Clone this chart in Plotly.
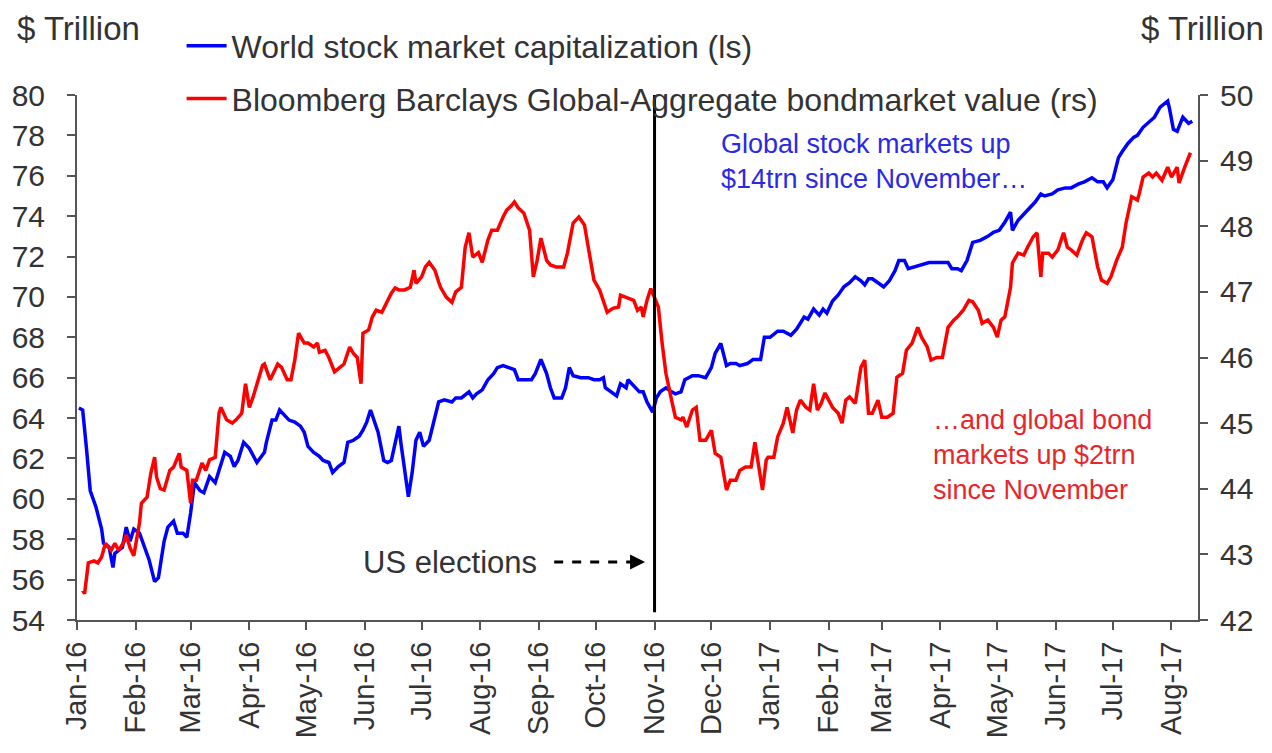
import plotly.graph_objects as go

# ---------------- data ----------------
stock_dates = [
    "2016-01-02","2016-01-04","2016-01-06","2016-01-08","2016-01-11","2016-01-14","2016-01-15","2016-01-18",
    "2016-01-20","2016-01-21","2016-01-25","2016-01-27","2016-01-29","2016-01-31","2016-02-03","2016-02-05",
    "2016-02-08","2016-02-11","2016-02-13","2016-02-16","2016-02-18","2016-02-21","2016-02-23","2016-02-26",
    "2016-02-28","2016-03-01","2016-03-03","2016-03-06","2016-03-08","2016-03-11","2016-03-14","2016-03-16",
    "2016-03-19","2016-03-22","2016-03-24","2016-03-26","2016-03-29","2016-04-01","2016-04-05","2016-04-09",
    "2016-04-10","2016-04-13","2016-04-15","2016-04-17","2016-04-20","2016-04-22","2016-04-25","2016-04-28",
    "2016-04-30","2016-05-02","2016-05-05","2016-05-08","2016-05-10","2016-05-13","2016-05-15","2016-05-18",
    "2016-05-21","2016-05-23","2016-05-26","2016-05-29","2016-05-31","2016-06-02","2016-06-04","2016-06-06",
    "2016-06-08","2016-06-11","2016-06-13","2016-06-15","2016-06-19","2016-06-20","2016-06-22","2016-06-24",
    "2016-06-26","2016-06-28","2016-06-30","2016-07-02","2016-07-05","2016-07-07","2016-07-10","2016-07-13",
    "2016-07-17","2016-07-19","2016-07-22","2016-07-26","2016-07-28","2016-07-30","2016-08-02","2016-08-05",
    "2016-08-08","2016-08-10","2016-08-13","2016-08-16","2016-08-19","2016-08-21","2016-08-25","2016-08-28",
    "2016-08-30","2016-09-02","2016-09-05","2016-09-07","2016-09-09","2016-09-13","2016-09-15","2016-09-17",
    "2016-09-19","2016-09-23","2016-09-27","2016-09-30","2016-10-03","2016-10-05","2016-10-06","2016-10-09",
    "2016-10-12","2016-10-14","2016-10-17","2016-10-18","2016-10-21","2016-10-24","2016-10-26","2016-10-28",
    "2016-10-31","2016-11-02","2016-11-04","2016-11-07","2016-11-10","2016-11-12","2016-11-15","2016-11-17",
    "2016-11-21","2016-11-24","2016-11-28","2016-12-01","2016-12-03","2016-12-06","2016-12-09","2016-12-11",
    "2016-12-14","2016-12-16","2016-12-20","2016-12-23","2016-12-27","2016-12-29","2017-01-01","2017-01-05",
    "2017-01-08","2017-01-12","2017-01-15","2017-01-19","2017-01-21","2017-01-24","2017-01-27","2017-01-29",
    "2017-01-31","2017-02-03","2017-02-06","2017-02-09","2017-02-12","2017-02-15","2017-02-18","2017-02-20",
    "2017-02-22","2017-02-24","2017-02-27","2017-03-02","2017-03-05","2017-03-08","2017-03-10","2017-03-13",
    "2017-03-15","2017-03-19","2017-03-22","2017-03-26","2017-03-29","2017-04-02","2017-04-05","2017-04-07",
    "2017-04-10","2017-04-12","2017-04-15","2017-04-18","2017-04-22","2017-04-26","2017-04-29","2017-05-02",
    "2017-05-05","2017-05-08","2017-05-09","2017-05-12","2017-05-16","2017-05-18","2017-05-21","2017-05-24",
    "2017-05-26","2017-05-30","2017-06-02","2017-06-06","2017-06-09","2017-06-13","2017-06-16","2017-06-20",
    "2017-06-23","2017-06-26","2017-06-28","2017-07-01","2017-07-04","2017-07-06","2017-07-09","2017-07-12",
    "2017-07-14","2017-07-17","2017-07-21","2017-07-23","2017-07-26","2017-07-30","2017-07-31","2017-08-02",
    "2017-08-04","2017-08-07","2017-08-10","2017-08-12",
]
stock_values = [
    64.5, 64.4, 62.5, 60.4, 59.6, 58.5, 57.8, 57.6,
    56.6, 57.3, 57.6, 58.6, 57.9, 58.5, 58.3, 57.8,
    57.0, 55.9, 56.1, 57.9, 58.6, 58.9, 58.3, 58.3,
    58.1, 59.3, 60.8, 60.4, 60.3, 61.1, 60.8, 61.4,
    62.3, 62.1, 61.6, 61.9, 62.8, 62.5, 61.8, 62.3,
    62.8, 63.9, 63.9, 64.4, 64.1, 63.9, 63.8, 63.6,
    63.3, 62.6, 62.3, 62.1, 61.9, 61.8, 61.3, 61.6,
    61.8, 62.8, 62.9, 63.1, 63.4, 63.8, 64.4, 63.9,
    63.3, 61.9, 61.8, 61.9, 63.6, 62.8, 61.3, 60.1,
    61.3, 62.9, 63.3, 62.6, 62.9, 63.6, 64.8, 64.9,
    64.8, 65.0, 65.0, 65.3, 65.0, 65.2, 65.4, 65.9,
    66.2, 66.5, 66.6, 66.5, 66.4, 65.9, 65.9, 65.9,
    66.2, 66.9, 66.2, 65.5, 65.0, 65.0, 65.5, 66.5,
    66.1, 66.0, 66.0, 65.9, 65.9, 66.0, 65.5, 65.3,
    65.1, 65.7, 65.5, 65.9, 65.6, 65.3, 65.3, 64.8,
    64.3, 65.0, 65.3, 65.5, 65.3, 65.2, 65.3, 65.9,
    66.1, 66.1, 66.0, 66.5, 67.2, 67.7, 66.6, 66.7,
    66.7, 66.6, 66.7, 66.9, 66.9, 68.0, 68.0, 68.3,
    68.3, 68.1, 68.4, 69.0, 68.9, 69.4, 69.1, 69.4,
    69.2, 69.8, 70.1, 70.5, 70.7, 71.0, 70.8, 70.6,
    70.9, 70.9, 70.7, 70.5, 70.8, 71.3, 71.8, 71.8,
    71.4, 71.5, 71.6, 71.7, 71.7, 71.7, 71.7, 71.4,
    71.4, 71.3, 71.8, 72.7, 72.8, 73.0, 73.2, 73.3,
    73.7, 74.2, 73.3, 73.8, 74.2, 74.4, 74.7, 75.1,
    75.0, 75.1, 75.3, 75.4, 75.4, 75.6, 75.7, 75.9,
    75.7, 75.7, 75.4, 75.8, 76.9, 77.2, 77.6, 77.9,
    78.0, 78.4, 78.7, 78.9, 79.4, 79.7, 79.3, 78.3,
    78.2, 78.9, 78.6, 78.7,
]

bond_dates = [
    "2016-01-04","2016-01-05","2016-01-07","2016-01-10","2016-01-12","2016-01-14","2016-01-16","2016-01-18",
    "2016-01-19","2016-01-21","2016-01-23","2016-01-26","2016-01-27","2016-01-29","2016-01-31","2016-02-03",
    "2016-02-04","2016-02-07","2016-02-09","2016-02-11","2016-02-12","2016-02-14","2016-02-16","2016-02-19",
    "2016-02-21","2016-02-24","2016-02-25","2016-02-28","2016-03-01","2016-03-02","2016-03-04","2016-03-07",
    "2016-03-09","2016-03-11","2016-03-14","2016-03-16","2016-03-17","2016-03-20","2016-03-23","2016-03-25",
    "2016-03-28","2016-03-30","2016-04-01","2016-04-03","2016-04-05","2016-04-08","2016-04-09","2016-04-12",
    "2016-04-14","2016-04-16","2016-04-18","2016-04-21","2016-04-23","2016-04-25","2016-04-27","2016-04-30",
    "2016-05-02","2016-05-05","2016-05-07","2016-05-08","2016-05-11","2016-05-13","2016-05-16","2016-05-19",
    "2016-05-21","2016-05-24","2016-05-26","2016-05-28","2016-05-30","2016-05-31","2016-06-03","2016-06-05",
    "2016-06-07","2016-06-10","2016-06-13","2016-06-15","2016-06-17","2016-06-19","2016-06-22","2016-06-25",
    "2016-06-27","2016-06-28","2016-07-01","2016-07-03","2016-07-05","2016-07-08","2016-07-10","2016-07-11",
    "2016-07-14","2016-07-17","2016-07-19","2016-07-22","2016-07-24","2016-07-26","2016-07-28","2016-07-31",
    "2016-08-02","2016-08-05","2016-08-07","2016-08-10","2016-08-13","2016-08-15","2016-08-17","2016-08-19",
    "2016-08-21","2016-08-24","2016-08-27","2016-08-29","2016-08-31","2016-09-02","2016-09-05","2016-09-07",
    "2016-09-10","2016-09-14","2016-09-16","2016-09-19","2016-09-22","2016-09-25","2016-09-27","2016-09-30",
    "2016-10-03","2016-10-05","2016-10-07","2016-10-10","2016-10-13","2016-10-14","2016-10-17","2016-10-19",
    "2016-10-21","2016-10-23","2016-10-25","2016-10-26","2016-10-28","2016-10-30","2016-11-01","2016-11-03",
    "2016-11-05","2016-11-07","2016-11-10","2016-11-12","2016-11-15","2016-11-16","2016-11-18","2016-11-21",
    "2016-11-23","2016-11-25","2016-11-28","2016-12-01","2016-12-03","2016-12-06","2016-12-09","2016-12-11",
    "2016-12-14","2016-12-16","2016-12-19","2016-12-22","2016-12-24","2016-12-25","2016-12-28","2016-12-30",
    "2016-12-31","2017-01-03","2017-01-05","2017-01-08","2017-01-10","2017-01-13","2017-01-15","2017-01-17",
    "2017-01-20","2017-01-22","2017-01-24","2017-01-26","2017-01-28","2017-01-30","2017-02-01","2017-02-03",
    "2017-02-06","2017-02-08","2017-02-10","2017-02-12","2017-02-15","2017-02-18","2017-02-20","2017-02-22",
    "2017-02-24","2017-02-27","2017-03-01","2017-03-04","2017-03-07","2017-03-09","2017-03-12","2017-03-14",
    "2017-03-17","2017-03-20","2017-03-22","2017-03-25","2017-03-27","2017-03-30","2017-04-02","2017-04-05",
    "2017-04-08","2017-04-10","2017-04-13","2017-04-16","2017-04-18","2017-04-21","2017-04-23","2017-04-26",
    "2017-04-29","2017-05-01","2017-05-03","2017-05-05","2017-05-08","2017-05-09","2017-05-12","2017-05-15",
    "2017-05-17","2017-05-20","2017-05-22","2017-05-24","2017-05-25","2017-05-28","2017-05-30","2017-06-02",
    "2017-06-05","2017-06-07","2017-06-09","2017-06-12","2017-06-15","2017-06-17","2017-06-20","2017-06-23",
    "2017-06-25","2017-06-28","2017-06-30","2017-07-03","2017-07-06","2017-07-08","2017-07-11","2017-07-14",
    "2017-07-15","2017-07-17","2017-07-20","2017-07-22","2017-07-24","2017-07-27","2017-07-30","2017-08-01",
    "2017-08-04","2017-08-05","2017-08-08","2017-08-11",
]
bond_values = [
    42.45, 42.40, 42.87, 42.90, 42.87, 42.96, 43.17, 43.10,
    43.06, 43.17, 43.06, 43.20, 43.30, 43.10, 42.98, 43.48,
    43.78, 43.87, 44.24, 44.48, 44.18, 44.00, 43.98, 44.28,
    44.33, 44.54, 44.33, 44.28, 43.78, 44.13, 44.13, 44.39,
    44.28, 44.44, 44.48, 45.15, 45.24, 45.05, 45.00, 45.05,
    45.15, 45.60, 45.24, 45.40, 45.60, 45.88, 45.90, 45.66,
    45.78, 45.90, 45.85, 45.66, 45.66, 45.96, 46.37, 46.22,
    46.22, 46.16, 46.22, 46.08, 46.11, 46.00, 45.78, 45.85,
    45.90, 46.16, 46.06, 46.00, 45.60, 46.37, 46.42, 46.62,
    46.72, 46.69, 46.87, 46.98, 47.06, 47.03, 47.03, 47.07,
    47.33, 47.13, 47.23, 47.38, 47.45, 47.33, 47.15, 47.07,
    46.92, 46.84, 47.00, 47.07, 47.68, 47.90, 47.53, 47.60,
    47.45, 47.79, 47.94, 47.94, 48.14, 48.25, 48.30, 48.37,
    48.28, 48.20, 47.94, 47.23, 47.48, 47.82, 47.48, 47.41,
    47.38, 47.38, 47.59, 48.05, 48.14, 48.02, 47.68, 47.18,
    47.03, 46.87, 46.69, 46.75, 46.77, 46.95, 46.92, 46.90,
    46.87, 46.72, 46.77, 46.62, 46.87, 47.05, 46.92, 46.77,
    46.22, 45.76, 45.35, 45.09, 45.05, 45.09, 44.94, 45.20,
    45.24, 44.74, 44.74, 44.89, 44.54, 44.48, 43.98, 44.13,
    44.13, 44.28, 44.33, 44.33, 44.71, 44.54, 43.98, 44.44,
    44.48, 44.48, 44.79, 45.00, 45.24, 44.85, 45.20, 45.35,
    45.24, 45.20, 45.60, 45.20, 45.30, 45.46, 45.35, 45.24,
    45.15, 45.00, 45.35, 45.40, 45.30, 45.85, 45.96, 45.15,
    45.15, 45.35, 45.09, 45.09, 45.15, 45.70, 45.76, 46.11,
    46.22, 46.46, 46.31, 46.16, 45.96, 46.00, 46.00, 46.46,
    46.57, 46.62, 46.72, 46.87, 46.85, 46.72, 46.52, 46.57,
    46.46, 46.31, 46.57, 46.62, 47.07, 47.44, 47.59, 47.56,
    47.68, 47.84, 47.90, 47.23, 47.59, 47.59, 47.53, 47.64,
    47.90, 47.68, 47.64, 47.56, 47.79, 47.90, 47.84, 47.38,
    47.18, 47.13, 47.23, 47.48, 47.68, 48.05, 48.45, 48.40,
    48.50, 48.75, 48.81, 48.75, 48.81, 48.70, 48.90, 48.75,
    48.90, 48.66, 48.90, 49.12,
]

stock_name = "World stock market capitalization (ls)"
bond_name = "Bloomberg Barclays Global-Aggregate bondmarket value (rs)"
election_date = "2016-11-01"
x_range = ["2016-01-01", "2017-08-15"]
left_range = [54, 80]
right_range = [42, 50]

TXT = "#333333"
FONT = "Liberation Sans, Arial, sans-serif"

fig = go.Figure()
fig.add_trace(go.Scatter(x=stock_dates, y=stock_values, name=stock_name, mode="lines",
                         line=dict(color="#0000ff", width=3.5), yaxis="y", legendgroup="a"))
fig.add_trace(go.Scatter(x=bond_dates, y=bond_values, name=bond_name, mode="lines",
                         line=dict(color="#ff0000", width=3.5), yaxis="y2", legendgroup="b"))

axis_common = dict(showgrid=False, zeroline=False, showline=True, linecolor="#555555", linewidth=2,
                   ticks="outside", ticklen=8, tickwidth=2, tickcolor="#555555")

fig.update_layout(
    width=1272, height=753,
    margin=dict(l=72, r=74, t=95, b=133),
    paper_bgcolor="white", plot_bgcolor="white",
    font=dict(family=FONT, color=TXT),
    xaxis=dict(type="date", range=x_range, tick0="2016-01-01", dtick="M1", tickformat="%b-%y",
               tickangle=-90, tickfont=dict(size=29, family=FONT, color=TXT), **axis_common),
    yaxis=dict(range=left_range, dtick=2, tickfont=dict(size=30, family=FONT, color=TXT),
               ticklabelstandoff=16, **axis_common),
    yaxis2=dict(range=right_range, dtick=1, overlaying="y", side="right",
                tickfont=dict(size=30, family=FONT, color=TXT), ticklabelstandoff=6, **axis_common),
    legend=dict(x=0.0933, y=1.1457, xanchor="left", yanchor="top", bgcolor="rgba(0,0,0,0)",
                font=dict(size=32, family=FONT, color=TXT), tracegroupgap=8, itemwidth=40),
    showlegend=True,
)

# election vertical line
fig.add_shape(type="line", xref="x", yref="paper", x0=election_date, x1=election_date, y0=0.015, y1=1,
              line=dict(color="black", width=3))

# dashed arrow pointing at the line
fig.add_shape(type="line", xref="x", yref="y", x0="2016-09-09", x1="2016-10-20", y0=56.87, y1=56.87,
              line=dict(color="black", width=3, dash="dash"))
fig.add_annotation(x="2016-10-27", y=56.87, xref="x", yref="y", text="", showarrow=True,
                   ax=-14, ay=0, arrowhead=2, arrowsize=1, arrowwidth=3, arrowcolor="black")
fig.add_annotation(x="2016-07-16", y=56.87, xref="x", yref="y", text="US elections", showarrow=False,
                   font=dict(size=31, color=TXT))

# axis unit labels
fig.add_annotation(xref="paper", yref="paper", x=(10 - 72) / 1126, y=1.126, xanchor="left", yanchor="middle",
                   text="$ Trillion", showarrow=False, font=dict(size=33, color=TXT))
fig.add_annotation(xref="paper", yref="paper", x=(1266 - 72) / 1126, y=1.126, xanchor="right", yanchor="middle",
                   text="$ Trillion", showarrow=False, font=dict(size=33, color=TXT))

# commentary
fig.add_annotation(xref="paper", yref="paper", x=0.5728, y=0.874, xanchor="left", yanchor="middle", align="left",
                   text="Global stock markets up<br>$14trn since November…", showarrow=False,
                   font=dict(size=27, color="#2a2ae6"))
fig.add_annotation(xref="paper", yref="paper", x=0.762, y=0.314, xanchor="left", yanchor="middle", align="left",
                   text="…and global bond<br>markets up $2trn<br>since November", showarrow=False,
                   font=dict(size=27, color="#e8262a"))

fig.write_html("out.html")
